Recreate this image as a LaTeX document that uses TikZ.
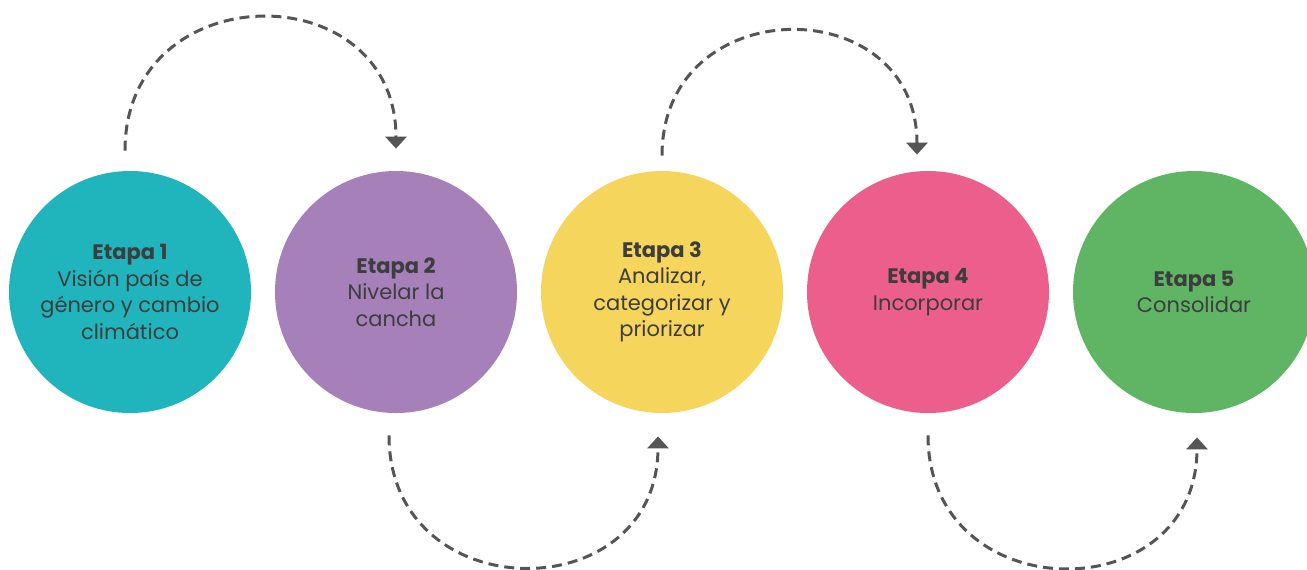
\documentclass[tikz,border=0pt]{standalone}
\usepackage{fontspec}
\setmainfont{Poppins}
\usetikzlibrary{positioning, arrows.meta}

\definecolor{tealc}{HTML}{20B5BC}
\definecolor{purplec}{HTML}{A580B9}
\definecolor{yellowc}{HTML}{F6D55C}
\definecolor{pinkc}{HTML}{EC5F8C}
\definecolor{greenc}{HTML}{5FB563}
\definecolor{textc}{HTML}{3D3D3D}
\definecolor{arrowc}{HTML}{555555}

\tikzset{
    etapa/.style={circle, minimum size=121pt, inner sep=0pt, align=center,
        text=textc, font=\fontsize{10.5}{13.2}\selectfont},
    flow/.style={arrowc, line width=1.5pt, dash pattern=on 5pt off 3pt,
        -{Triangle[width=10.5pt,length=6pt]}, looseness=1.66}
}

\begin{document}
\begin{tikzpicture}[node distance=133pt,on grid]

    \useasboundingbox (-65pt,146pt) rectangle (588.5pt,-138.5pt);

    \node[etapa, fill=tealc] (e1) at (0,0) {\textbf{Etapa 1}\\Visión país de\\género y cambio\\climático};
    \node[etapa, fill=purplec] (e2) [right=of e1] {\textbf{Etapa 2}\\Nivelar la\\cancha};
    \node[etapa, fill=yellowc] (e3) [right=of e2] {\textbf{Etapa 3}\\Analizar,\\categorizar y\\priorizar};
    \node[etapa, fill=pinkc] (e4) [right=of e3] {\textbf{Etapa 4}\\Incorporar};
    \node[etapa, fill=greenc] (e5) [right=of e4] {\textbf{Etapa 5}\\Consolidar};

    % ends of the dashed arcs
    \coordinate (s12) at ([xshift=-2.5pt,yshift=10pt]e1.north);
    \coordinate (t12) at ([yshift=11pt]e2.north);
    \coordinate (s34) at ([yshift=7.5pt]e3.north);
    \coordinate (t34) at ([xshift=-5.5pt,yshift=8pt]e4.north);
    \coordinate (s23) at ([xshift=-3.5pt,yshift=-11pt]e2.south);
    \coordinate (t23) at ([xshift=-2pt,yshift=-11.5pt]e3.south);
    \coordinate (s45) at ([yshift=-11pt]e4.south);
    \coordinate (t45) at ([xshift=1.5pt,yshift=-12pt]e5.south);

    \path[flow]
    (s12) edge [out=90, in=90] (t12)
    (s34) edge [out=90, in=90] (t34)
    (s23) edge [out=-90, in=-90] (t23)
    (s45) edge [out=-90, in=-90] (t45);

\end{tikzpicture}
\end{document}
